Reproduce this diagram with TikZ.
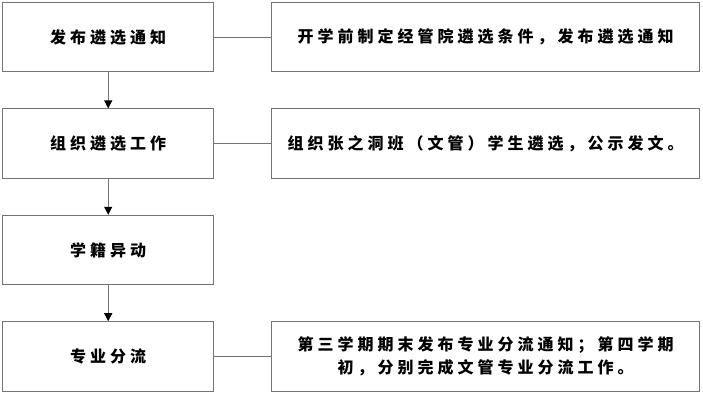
\documentclass[tikz,border=0pt]{standalone}
\usepackage{fontspec}
\newfontfamily\cjk[LetterSpace=25]{Noto Sans CJK SC}
\usetikzlibrary{positioning, arrows.meta}

\begin{document}
\begin{tikzpicture}[
    >={Triangle[width=6pt,length=6pt,color=black]},
    thick,
    node distance = 27pt,
    font=\cjk\bfseries\fontsize{12pt}{17pt}\selectfont,
    stepbox/.style={draw=gray!90!black, minimum width=158.5pt, minimum height=52pt, inner sep=0pt},
    note/.style={draw=gray!90!black, minimum width=321pt, minimum height=52pt, inner sep=0pt, align=center},
    link/.style={draw=gray!90!black, -},
    flow/.style={draw=gray!90!black, ->},
]
\useasboundingbox (0,0) rectangle (527.25pt,-294.75pt);
\node[stepbox, anchor=north west] (notice) at (1.5pt,-1.5pt) {发布遴选通知};
\node[stepbox, below=of notice] (select) {组织遴选工作};
\node[stepbox, below=of select] (status) {学籍异动};
\node[stepbox, below=of status] (major) {专业分流};

\node[note, right=42.5pt of notice] (noticenote) {开学前制定经管院遴选条件，发布遴选通知};
\node[note, right=42.5pt of select] (selectnote) {组织张之洞班（文管）学生遴选，公示发文。};
\node[note, right=42.5pt of major] (majornote) {第三学期期末发布专业分流通知；第四学期\\初，分别完成文管专业分流工作。};

\draw[flow] (notice) -- (select);
\draw[flow] (select) -- (status);
\draw[flow] (status) -- (major);
\draw[link] (notice) -- (noticenote);
\draw[link] (select) -- (selectnote);
\draw[link] (major) -- (majornote);
\end{tikzpicture}
\end{document}
